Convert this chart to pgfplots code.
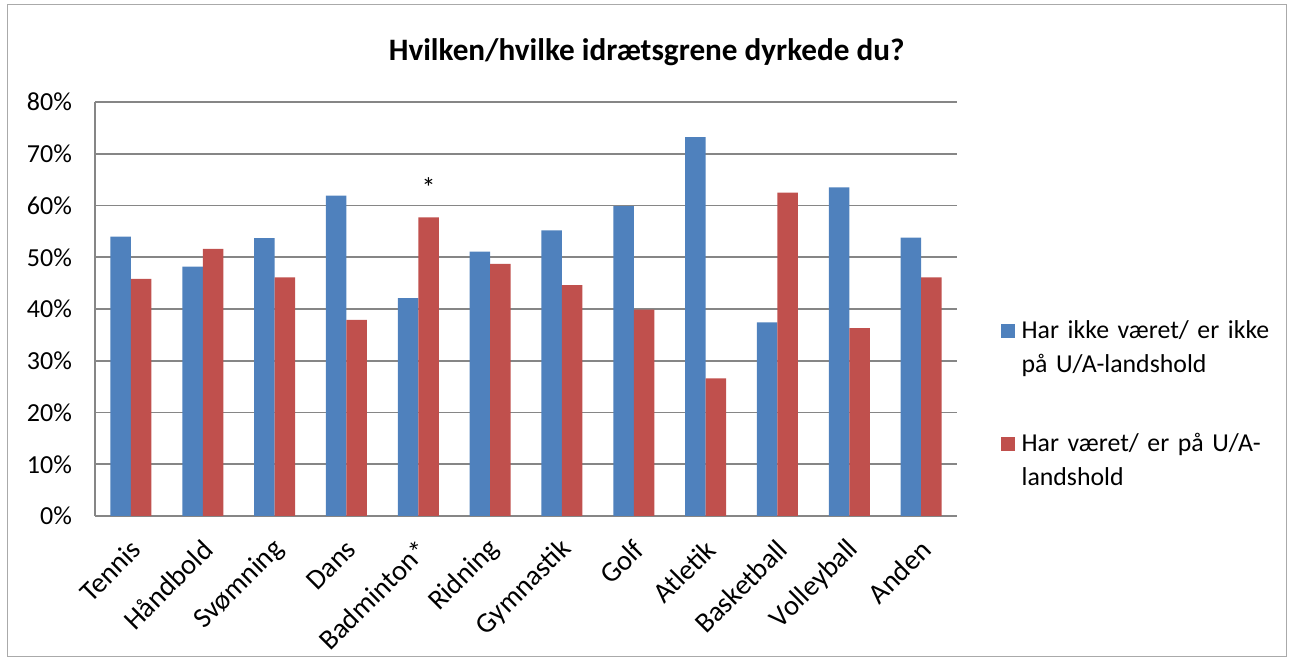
\documentclass[border=0pt]{standalone}
\usepackage{pgfplots}
\pgfplotsset{compat=1.18}
\usepackage{fontspec}
\setmainfont{Carlito}
\definecolor{cblue}{HTML}{4F81BD}
\definecolor{cred}{HTML}{C0504D}
\definecolor{cgrid}{HTML}{868686}
\begin{document}
\begin{tikzpicture}
\useasboundingbox (0,0) rectangle (646pt,331pt);
\draw[cgrid!70, line width=0.5pt] (3.5pt,2.5pt) rectangle (643pt,328.5pt);
\begin{axis}[
  at={(47.5pt,73pt)}, anchor=south west,
  scale only axis, width=431pt, height=207pt,
  ybar=0pt, bar width=10.25pt,
  xmin=-0.5, xmax=11.5, ymin=0, ymax=80,
  xtick={0,...,11},
  xticklabels={Tennis,Håndbold,Svømning,Dans,Badminton*,Ridning,Gymnastik,Golf,Atletik,Basketball,Volleyball,Anden},
  ytick={0,10,...,80},
  yticklabel={\pgfmathprintnumber{\tick}\%},
  /pgf/number format/assume math mode=true,
  ymajorgrids, grid style={cgrid, line width=0.9pt},
  axis x line*=bottom, axis y line*=left,
  axis line style={cgrid, line width=0.9pt},
  major tick length=0pt, tick style={draw=none},
  x tick label style={rotate=45, anchor=east, font=\fontsize{14.2}{16}\selectfont, xshift=-5pt, yshift=-12pt},
  y tick label style={font=\fontsize{13}{15}\selectfont, xshift=-8pt},
  title={\bfseries Hvilken/hvilke idrætsgrene dyrkede du?},
  title style={at={(0.64,1.092)}, anchor=center, font=\fontsize{15.6}{18}\selectfont},
  legend style={at={(1.044,0.488)}, anchor=north west, draw=none, fill=none,
     font=\fontsize{12.9}{16}\selectfont, row sep=44pt,
     nodes={align=left, text width=140pt, inner sep=1pt}},
  legend cell align=left,
  legend image code/.code={\fill[#1] (0pt,-3.5pt) rectangle (7pt,3.5pt);},
]
\addplot[fill=cblue, draw=none] coordinates {(0,54.0) (1,48.2) (2,53.7) (3,61.9) (4,42.1) (5,51.1) (6,55.2) (7,59.9) (8,73.2) (9,37.4) (10,63.5) (11,53.8)};
\addplot[fill=cred, draw=none] coordinates {(0,45.8) (1,51.6) (2,46.1) (3,37.9) (4,57.7) (5,48.7) (6,44.6) (7,39.9) (8,26.6) (9,62.5) (10,36.3) (11,46.1)};
\legend{\,Har ikke været/ er ikke\\[1.2pt]\,på U/A-landshold, \,Har været/ er på U/A-\\[1.2pt]\,landshold}
\node[font=\fontsize{14}{16}\selectfont] at (axis cs:4.143,63.4) {*};
\end{axis}
\end{tikzpicture}
\end{document}
